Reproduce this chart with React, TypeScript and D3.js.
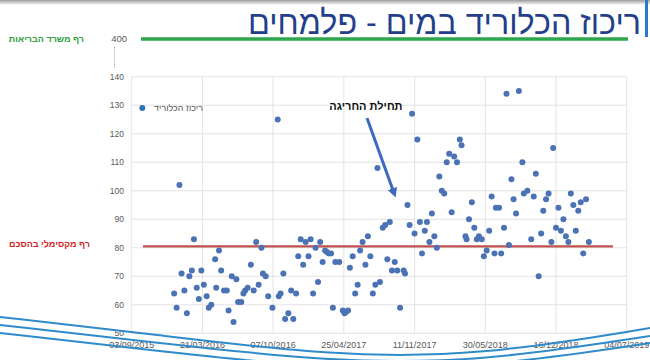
import React from "react";
import * as d3 from "d3";

// Excel serial dates (days) and chloride concentration (mg/l)
const sampleDates = [
  42370, 42377, 42385, 42391, 42399, 42406, 42413, 42420, 42426, 42434,
  42440, 42447, 42454, 42462, 42468, 42475, 42486, 42489, 42497, 42503,
  42511, 42519, 42524, 42533, 42538, 42546, 42551, 42560, 42566, 42571,
  42578, 42587, 42595, 42602, 42609, 42617, 42621, 42629, 42636, 42648,
  42663, 42666, 42671, 42679, 42684, 42693, 42701, 42707, 42715, 42721,
  42728, 42735, 42742, 42750, 42756, 42763, 42770, 42777, 42783, 42790,
  42797, 42802, 42807, 42814, 42819, 42826, 42837, 42847, 42852, 42856,
  42862, 42867, 42875, 42882, 42889, 42896, 42903, 42911, 42918, 42925,
  42932, 42939, 42945, 42952, 42960, 42967, 42973, 42980, 42986, 42994,
  43001, 43009, 43019, 43023, 43030, 43036, 43043, 43050, 43058, 43065,
  43071, 43079, 43085, 43092, 43099, 43106, 43113, 43120, 43127, 43134,
  43141, 43148, 43155, 43162, 43170, 43178, 43183, 43194, 43197, 43204,
  43212, 43219, 43226, 43232, 43240, 43246, 43254, 43261, 43268, 43276,
  43280, 43289, 43295, 43303, 43310, 43317, 43324, 43330, 43337, 43345,
  43355, 43359, 43369, 43380, 43387, 43393, 43401, 43408, 43414, 43422,
  43429, 43437, 43442, 43450, 43457, 43464, 43471, 43478, 43485, 43492,
  43499, 43506, 43513, 43520, 43527, 43535, 43543,
];
const chlorideValues = [
  64, 59, 102, 71, 65, 57, 70, 72, 83, 66,
  62, 72, 67, 63, 59, 60, 76, 66, 79, 72,
  65, 65, 58, 70, 54, 69, 61, 61, 64, 65,
  66, 74, 65, 82, 67, 80, 71, 70, 63, 59,
  125, 63, 64, 71, 55, 57, 65, 55, 64, 77,
  83, 74, 82, 77, 83, 64, 80, 68, 82, 75,
  79, 78.5, 78, 78, 59, 75, 75, 58, 57, 57.5,
  58, 73, 77, 64, 67, 79, 82, 74, 84, 77,
  64, 67, 108, 68, 87, 88, 76, 89, 72, 75,
  72, 59, 72, 71, 95, 88, 127, 85, 118, 89,
  78, 86, 89, 82, 92, 84, 80, 105, 100, 99,
  110, 113, 92.5, 112, 110, 118, 116, 84, 83, 90,
  96, 87, 83, 84, 83, 77, 79, 86, 98, 78,
  94, 94, 78, 87, 134, 81, 104, 97, 92, 135,
  110, 99, 100, 83, 98, 106, 70, 85, 93, 97,
  99, 82, 115, 87, 94, 86, 90, 84, 82, 99,
  95, 86, 93, 96, 78, 97, 82,
];

const contractLimit = 80.5;
const contractLineDates = [42282, 43611];
const healthLimitLabel = "400";

const yTicks = [50, 60, 70, 80, 90, 100, 110, 120, 130, 140];
const xTickSerials = [42250, 42450, 42650, 42850, 43050, 43250, 43450, 43650];
const xTickLabels = [
  "03/09/2015", "21/03/2016", "07/10/2016", "25/04/2017",
  "11/11/2017", "30/05/2018", "16/12/2018", "04/07/2019",
];

const title = "ריכוז הכלוריד במים - פלמחים";
const seriesName = "ריכוז הכלוריד";
const healthLabel = "רף משרד הבריאות";
const contractLabel = "רף מקסימלי בהסכם";
const annotation = "תחילת החריגה";

const W = 650;
const H = 360;
const font = "'Liberation Sans', Arial, sans-serif";

export default function App() {
  const x = d3.scaleLinear().domain([42250, 43650]).range([131.7, 626.7]);
  const y = d3.scaleLinear().domain([50, 140]).range([333.3, 76.7]);

  const swoosh = d3.line().curve(d3.curveBasis);
  const swooshes: [number, number][][] = [
    [[0, 317], [150, 334], [330, 356], [480, 356], [650, 328]],
    [[0, 325], [150, 342], [330, 362], [480, 362], [650, 336]],
    [[0, 333], [150, 350], [330, 370], [480, 368], [650, 343]],
  ];

  return (
    <svg
      width={W}
      height={H}
      style={{ position: "absolute", left: 0, top: 0, background: "#fff" }}
      fontFamily={font}
    >
      <defs>
        <linearGradient id="topbar" x1="0" x2="0" y1="0" y2="1">
          <stop offset="0" stopColor="#9a9a9a" />
          <stop offset="1" stopColor="#ffffff" />
        </linearGradient>
        <marker
          id="arrow"
          viewBox="0 0 10 10"
          refX="5"
          refY="5"
          markerWidth="3.2"
          markerHeight="3.2"
          orient="auto"
        >
          <path d="M0,0 L10,5 L0,10 z" fill="#3d6ac0" />
        </marker>
      </defs>
      <rect x={0} y={0} width={W} height={5} fill="url(#topbar)" />
      <rect x={645} y={0} width={3} height={37} fill="#2a78c8" />

      <text
        x={641}
        y={34}
        textAnchor="end"
        fontSize={33}
        fill="#233f8b"
        textLength={393}
        lengthAdjust="spacingAndGlyphs"
      >
        {title}
      </text>

      {/* gridlines */}
      {yTicks.map((t) => (
        <line key={"gy" + t} x1={x(42250)} x2={x(43650)} y1={y(t)} y2={y(t)} stroke="#dcdcdc" strokeWidth={0.8} />
      ))}
      {xTickSerials.map((t) => (
        <line key={"gx" + t} x1={x(t)} x2={x(t)} y1={y(50)} y2={y(140)} stroke="#dcdcdc" strokeWidth={0.8} />
      ))}

      {/* y labels */}
      {yTicks.map((t) => (
        <text key={"ly" + t} x={124} y={y(t) + 3} textAnchor="end" fontSize={8.5} fill="#595959">
          {t}
        </text>
      ))}
      <text x={127} y={42} textAnchor="end" fontSize={9.5} fill="#595959">
        {healthLimitLabel}
      </text>
      <line x1={114.5} x2={114.5} y1={47} y2={68} stroke="#8a8a8a" strokeWidth={0.8} strokeDasharray="1.2,1.2" />

      {/* health ministry limit */}
      <line x1={141} x2={628} y1={39} y2={39} stroke="#2ea64e" strokeWidth={3.5} />
      <text x={84} y={42} textAnchor="end" fontSize={9} fontWeight="bold" fill="#2e9e3e">
        {healthLabel}
      </text>

      {/* contract limit */}
      <line
        x1={x(contractLineDates[0])}
        x2={x(contractLineDates[1])}
        y1={y(contractLimit)}
        y2={y(contractLimit)}
        stroke="#c0504d"
        strokeWidth={2.2}
      />
      <text x={90} y={247} textAnchor="end" fontSize={9} fontWeight="bold" fill="#d01e1e">
        {contractLabel}
      </text>

      {/* points */}
      {sampleDates.map((d, i) => (
        <circle key={"p" + i} cx={x(d)} cy={y(chlorideValues[i])} r={3} fill="#4a72b5" />
      ))}

      {/* legend */}
      <circle cx={142.3} cy={108} r={3} fill="#2e75b6" />
      <text x={203} y={111} textAnchor="end" fontSize={9} fill="#595959">
        {seriesName}
      </text>

      {/* annotation */}
      <text x={402.5} y={110} textAnchor="end" fontSize={11} fontWeight="bold" fill="#111">
        {annotation}
      </text>
      <line x1={367} y1={118} x2={394} y2={193} stroke="#3d6ac0" strokeWidth={3} markerEnd="url(#arrow)" />

      {/* x labels */}
      {xTickSerials.map((t, i) => (
        <text key={"lx" + t} x={x(t)} y={348} textAnchor="middle" fontSize={9} fill="#595959">
          {xTickLabels[i]}
        </text>
      ))}

      {/* decorative swooshes */}
      {swooshes.map((pts, i) => (
        <path key={"s" + i} d={swoosh(pts) || ""} fill="none" stroke="#2f8bc9" strokeWidth={2} />
      ))}
    </svg>
  );
}
